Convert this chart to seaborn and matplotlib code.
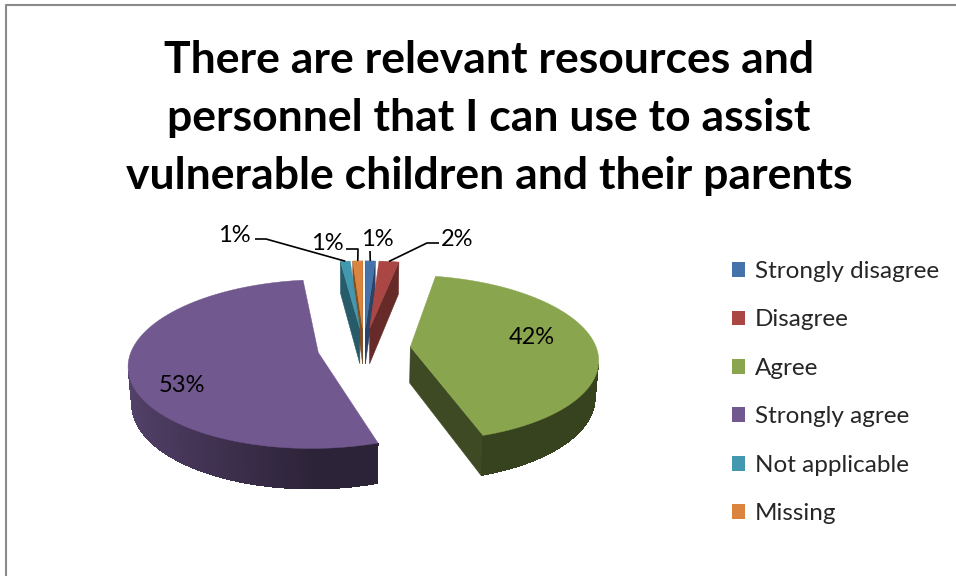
import numpy as np
import matplotlib
matplotlib.use("Agg")
import matplotlib.pyplot as plt
from matplotlib.patches import Patch, Polygon
from matplotlib.colors import to_rgb
import seaborn as sns

# ---- data ----
categories = ["Strongly disagree", "Disagree", "Agree", "Strongly agree",
              "Not applicable", "Missing"]
shares = [1, 2, 42, 53, 1, 1]
pct_labels = ["1%", "2%", "42%", "53%", "1%", "1%"]
colors = ["#4672AB", "#AA4643", "#89A54E", "#71588F", "#4198AF", "#DB843D"]
title = ("There are relevant resources and\n"
         "personnel that I can use to assist\n"
         "vulnerable children and their parents")

sns.set_theme(style="white")
plt.rcParams["font.family"] = ["Lato", "DejaVu Sans"]

W, H = 956, 576
fig = plt.figure(figsize=(W / 100, H / 100), dpi=100)
ax = fig.add_axes([0, 0, 1, 1])
ax.set_xlim(0, W)
ax.set_ylim(H, 0)
ax.axis("off")

# ---- perspective camera for the 3-D pie ----
elev = np.radians(26)
dist = 6.6
focal = 1228
cx, cy = 364, 348
explode = 0.25
thick = 0.22
cam = np.array([0.0, -dist * np.cos(elev), dist * np.sin(elev)])


def project(x, y, z):
    v = y * np.sin(elev) + z * np.cos(elev)
    w = dist + y * np.cos(elev) - z * np.sin(elev)
    return cx + focal * x / w, cy - focal * v / w


def shade(c, f):
    r, g, b = to_rgb(c)
    return (r * f, g * f, b * f)


def visible(point, normal):
    return np.dot(cam - point, normal) > 0


def wall_factor(t):
    return 0.40 + 0.35 * max(0.0, -np.sin(t))


vals = np.asarray(shares, dtype=float)
ends = np.cumsum(vals) / vals.sum() * 2 * np.pi
starts = ends - vals / vals.sum() * 2 * np.pi

slices = []
for i in range(len(vals)):
    a1, a2 = starts[i], ends[i]
    mid = 0.5 * (a1 + a2)
    ox, oy = explode * np.sin(mid), explode * np.cos(mid)
    slices.append((i, a1, a2, mid, ox, oy))

# far slices first
slices.sort(key=lambda s: -(s[5] + 0.5 * np.cos(s[3])))

for i, a1, a2, mid, ox, oy in slices:
    col = colors[i]
    n = max(int((a2 - a1) / np.radians(1.0)), 2)
    th = np.linspace(a1, a2, n + 1)
    xs = ox + np.sin(th)
    ys = oy + np.cos(th)

    # radial cut faces
    face_f = 0.45 if vals[i] > 5 else 0.6
    for a, nrm in ((a1, np.array([-np.cos(a1), np.sin(a1), 0])),
                   (a2, np.array([np.cos(a2), -np.sin(a2), 0]))):
        p = np.array([ox + 0.5 * np.sin(a), oy + 0.5 * np.cos(a), -thick / 2])
        if visible(p, nrm):
            pts = [project(ox, oy, 0), project(ox + np.sin(a), oy + np.cos(a), 0),
                   project(ox + np.sin(a), oy + np.cos(a), -thick),
                   project(ox, oy, -thick)]
            ax.add_patch(Polygon(pts, closed=True, facecolor=shade(col, face_f),
                                 edgecolor=shade(col, face_f), lw=0.4))

    # outer curved wall: a solid backing strip, then shaded segments
    vis = []
    for k in range(n):
        tm = 0.5 * (th[k] + th[k + 1])
        nrm = np.array([np.sin(tm), np.cos(tm), 0])
        p = np.array([ox + np.sin(tm), oy + np.cos(tm), -thick / 2])
        vis.append(visible(p, nrm))
    idx = [k for k in range(n) if vis[k]]
    if idx:
        ks = list(range(idx[0], idx[-1] + 2))
        upper = [project(xs[k], ys[k], 0) for k in ks]
        lower = [project(xs[k], ys[k], -thick) for k in ks[::-1]]
        avg = np.mean([wall_factor(0.5 * (th[k] + th[k + 1])) for k in idx])
        ax.add_patch(Polygon(upper + lower, closed=True,
                             facecolor=shade(col, avg), edgecolor="none"))
        for k in idx:
            tm = 0.5 * (th[k] + th[k + 1])
            fc = shade(col, wall_factor(tm))
            pts = [project(xs[k], ys[k], 0), project(xs[k + 1], ys[k + 1], 0),
                   project(xs[k + 1], ys[k + 1], -thick),
                   project(xs[k], ys[k], -thick)]
            ax.add_patch(Polygon(pts, closed=True, facecolor=fc,
                                 edgecolor="none", antialiased=False))

    # top face
    top = [project(ox, oy, 0)] + [project(x, y, 0) for x, y in zip(xs, ys)]
    ax.add_patch(Polygon(top, closed=True, facecolor=col, edgecolor=col, lw=0.3))

# ---- data labels ----
label_font = dict(fontsize=17, color="black", ha="center", va="center")
inside_pos = {2: (532, 337), 3: (182, 386)}
for i, (x, y) in inside_pos.items():
    ax.text(x, y, pct_labels[i], **label_font)

# small slices: text position and leader path ending at the slice's outer rim
outside = {
    4: ((234, 236), [(255, 239), (266, 239)]),
    5: ((327, 243), [(346, 249), (358, 249)]),
    0: ((377, 240), [(370, 251)]),
    1: ((457, 240), [(439, 243), (427, 243)]),
}
for i, ((tx, ty), path) in outside.items():
    mid = 0.5 * (starts[i] + ends[i])
    ex = explode * np.sin(mid) + np.sin(mid)
    ey = explode * np.cos(mid) + np.cos(mid)
    end = project(ex, ey, 0)
    px = [p[0] for p in path] + [end[0]]
    py = [p[1] for p in path] + [end[1]]
    ax.plot(px, py, color="black", lw=1.2, solid_capstyle="butt")
    ax.text(tx, ty, pct_labels[i], **label_font)

# ---- title ----
ax.text(489, 118, title, fontsize=32, fontweight="bold", ha="center",
        va="center", linespacing=1.55, color="black")

# ---- legend ----
handles = [Patch(facecolor=c, edgecolor="none") for c in colors]
ax.legend(handles, categories, loc="upper left",
          bbox_to_anchor=(732 / W, 1 - 261 / H), frameon=False,
          fontsize=17.5, labelspacing=1.13, handlelength=0.55, handleheight=0.55,
          handletextpad=0.38, borderpad=0, borderaxespad=0)

# ---- chart border ----
ax.plot([6.5, 6.5, W], [H, 4.5, 4.5], color="#8a8a8a", lw=1.5,
        solid_capstyle="butt")

fig.savefig("out.png", dpi=100)
